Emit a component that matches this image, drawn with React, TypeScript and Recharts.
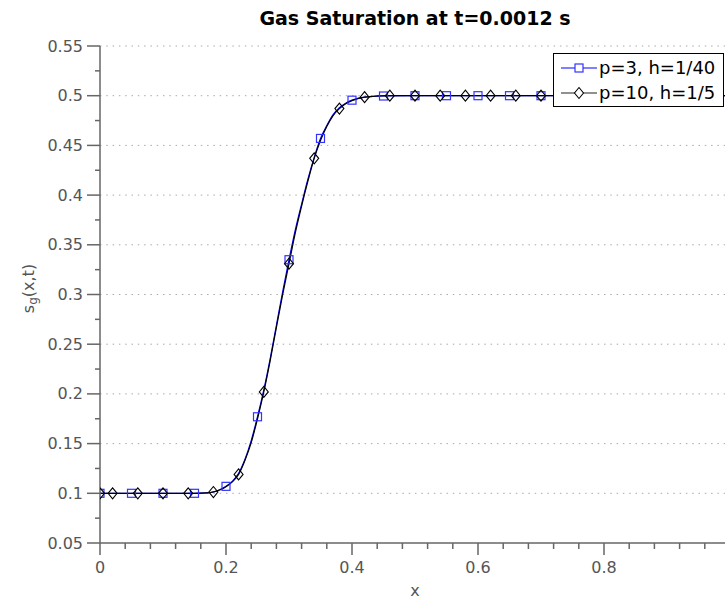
import {
  ComposedChart,
  Line,
  Scatter,
  XAxis,
  YAxis,
  CartesianGrid,
  Legend,
  Label,
} from "recharts";

// p=3, h=1/40 : fine curve and square markers
const blueLine = [
  { x: 0, y: 0.1 }, { x: 0.1, y: 0.1 }, { x: 0.15, y: 0.1 }, { x: 0.17, y: 0.1004 },
  { x: 0.18, y: 0.1014 }, { x: 0.19, y: 0.1036 }, { x: 0.2, y: 0.107 }, { x: 0.21, y: 0.112 },
  { x: 0.22, y: 0.12 }, { x: 0.23, y: 0.134 }, { x: 0.24, y: 0.153 }, { x: 0.25, y: 0.177 },
  { x: 0.26, y: 0.204 }, { x: 0.27, y: 0.235 }, { x: 0.28, y: 0.269 }, { x: 0.29, y: 0.303 },
  { x: 0.3, y: 0.335 }, { x: 0.31, y: 0.365 }, { x: 0.32, y: 0.391 }, { x: 0.33, y: 0.416 },
  { x: 0.34, y: 0.438 }, { x: 0.35, y: 0.457 }, { x: 0.36, y: 0.47 }, { x: 0.37, y: 0.481 },
  { x: 0.38, y: 0.488 }, { x: 0.39, y: 0.4925 }, { x: 0.4, y: 0.4955 }, { x: 0.42, y: 0.4985 },
  { x: 0.45, y: 0.4997 }, { x: 0.5, y: 0.5 }, { x: 0.7, y: 0.5 }, { x: 1, y: 0.5 },
];
const blueMarks = [
  { x: 0, y: 0.1 }, { x: 0.05, y: 0.1 }, { x: 0.1, y: 0.1 }, { x: 0.15, y: 0.1 },
  { x: 0.2, y: 0.107 }, { x: 0.25, y: 0.177 }, { x: 0.3, y: 0.335 }, { x: 0.35, y: 0.457 },
  { x: 0.4, y: 0.4955 }, { x: 0.45, y: 0.4997 }, { x: 0.5, y: 0.5 }, { x: 0.55, y: 0.5 },
  { x: 0.6, y: 0.5 }, { x: 0.65, y: 0.5 }, { x: 0.7, y: 0.5 }, { x: 0.75, y: 0.5 },
  { x: 0.8, y: 0.5 }, { x: 0.85, y: 0.5 }, { x: 0.9, y: 0.5 }, { x: 0.95, y: 0.5 },
  { x: 1, y: 0.5 },
];

// p=10, h=1/5 : fine curve and diamond markers
const blackLine = [
  { x: 0, y: 0.1 }, { x: 0.1, y: 0.1 }, { x: 0.15, y: 0.1 }, { x: 0.17, y: 0.1004 },
  { x: 0.18, y: 0.1013 }, { x: 0.19, y: 0.1033 }, { x: 0.2, y: 0.1065 }, { x: 0.21, y: 0.1115 },
  { x: 0.22, y: 0.119 }, { x: 0.23, y: 0.133 }, { x: 0.24, y: 0.151 }, { x: 0.25, y: 0.175 },
  { x: 0.26, y: 0.202 }, { x: 0.27, y: 0.233 }, { x: 0.28, y: 0.267 }, { x: 0.29, y: 0.3 },
  { x: 0.3, y: 0.331 }, { x: 0.31, y: 0.362 }, { x: 0.32, y: 0.389 }, { x: 0.33, y: 0.414 },
  { x: 0.34, y: 0.437 }, { x: 0.35, y: 0.455 }, { x: 0.36, y: 0.469 }, { x: 0.37, y: 0.48 },
  { x: 0.38, y: 0.487 }, { x: 0.39, y: 0.492 }, { x: 0.4, y: 0.495 }, { x: 0.42, y: 0.4985 },
  { x: 0.46, y: 0.5 }, { x: 0.7, y: 0.5 }, { x: 1, y: 0.5 },
];
const blackMarks = [
  { x: 0, y: 0.1 }, { x: 0.02, y: 0.1 }, { x: 0.06, y: 0.1 }, { x: 0.1, y: 0.1 },
  { x: 0.14, y: 0.1 }, { x: 0.18, y: 0.1013 }, { x: 0.22, y: 0.119 }, { x: 0.26, y: 0.202 },
  { x: 0.3, y: 0.331 }, { x: 0.34, y: 0.437 }, { x: 0.38, y: 0.487 }, { x: 0.42, y: 0.4985 },
  { x: 0.46, y: 0.5 }, { x: 0.5, y: 0.5 }, { x: 0.54, y: 0.5 }, { x: 0.58, y: 0.5 },
  { x: 0.62, y: 0.5 }, { x: 0.66, y: 0.5 }, { x: 0.7, y: 0.5 }, { x: 0.74, y: 0.5 },
  { x: 0.78, y: 0.5 }, { x: 0.82, y: 0.5 }, { x: 0.86, y: 0.5 }, { x: 0.9, y: 0.5 },
  { x: 0.94, y: 0.5 }, { x: 0.98, y: 0.5 },
];

const xTicks = [
  0, 0.04, 0.08, 0.12, 0.16, 0.2, 0.24, 0.28, 0.32, 0.36, 0.4, 0.44, 0.48,
  0.52, 0.56, 0.6, 0.64, 0.68, 0.72, 0.76, 0.8, 0.84, 0.88, 0.92, 0.96, 1,
];
// major ticks that carry a visible label (the one at 1 falls off the right edge)
const xMajor = [0, 0.2, 0.4, 0.6, 0.8];
const yTicks = [
  0.05, 0.075, 0.1, 0.125, 0.15, 0.175, 0.2, 0.225, 0.25, 0.275, 0.3,
  0.325, 0.35, 0.375, 0.4, 0.425, 0.45, 0.475, 0.5, 0.525, 0.55,
];
const yMajor = [0.05, 0.1, 0.15, 0.2, 0.25, 0.3, 0.35, 0.4, 0.45, 0.5, 0.55];

const FONT = "'DejaVu Sans', sans-serif";
const AXIS = "#666";
const isMajor = (list: number[], v: number) => list.some((m) => Math.abs(m - v) < 1e-9);

const XTick = ({ x, y, payload }: any) => {
  const major = isMajor(xMajor, payload.value);
  return (
    <g>
      <line x1={x} x2={x} y1={y} y2={y + (major ? 12 : 6)} stroke={AXIS} strokeWidth={1.5} />
      {major && (
        <text x={x} y={y + 24} textAnchor="middle" dominantBaseline="central"
          fontFamily={FONT} fontSize={16} fill="#555">
          {String(payload.value)}
        </text>
      )}
    </g>
  );
};

const YTick = ({ x, y, payload }: any) => {
  const major = isMajor(yMajor, payload.value);
  return (
    <g>
      <line x1={x - (major ? 13 : 5)} x2={x} y1={y} y2={y} stroke={AXIS} strokeWidth={1.5} />
      {major && (
        <text x={x - 17} y={y} textAnchor="end" dominantBaseline="central"
          fontFamily={FONT} fontSize={16} fill="#555">
          {String(payload.value)}
        </text>
      )}
    </g>
  );
};

const Square = ({ cx, cy }: any) => (
  <rect x={cx - 4} y={cy - 4} width={8} height={8} fill="none" stroke="#3333ff" strokeWidth={1.2} />
);

const Diamond = ({ cx, cy }: any) => (
  <path d={`M${cx},${cy - 5.5}L${cx + 4.5},${cy}L${cx},${cy + 5.5}L${cx - 4.5},${cy}Z`}
    fill="none" stroke="#000" strokeWidth={1.1} />
);

const legendItems = [
  { label: "p=3, h=1/40", color: "#0000ff", marker: "square" },
  { label: "p=10, h=1/5", color: "#222", marker: "diamond" },
];

const LegendBox = () => (
  <div style={{ border: "1.3px solid #000", background: "#fff", width: 169, height: 51,
    paddingTop: 1, boxSizing: "content-box" }}>
    {legendItems.map((it) => (
      <div key={it.label} style={{ display: "flex", alignItems: "center", height: 25 }}>
        <svg width={44} height={16} style={{ marginLeft: 6 }}>
          <line x1={1} x2={37} y1={8} y2={8} stroke={it.color} strokeWidth={1.2} />
          {it.marker === "square" ? (
            <rect x={15} y={4} width={8} height={8} fill="#fff" stroke="#3333ff" strokeWidth={1.2} />
          ) : (
            <path d="M19,2.5L23.5,8L19,13.5L14.5,8Z" fill="#fff" stroke="#000" strokeWidth={1.1} />
          )}
        </svg>
        <span style={{ fontFamily: FONT, fontSize: 18, color: "#000", marginLeft: -5 }}>
          {it.label}
        </span>
      </div>
    ))}
  </div>
);

const YLabel = ({ viewBox }: any) => {
  const cx = 28;
  const cy = viewBox.y + viewBox.height / 2 - 6;
  return (
    <text x={cx} y={cy} transform={`rotate(-90 ${cx} ${cy})`} textAnchor="middle"
      dominantBaseline="central" fontFamily={FONT} fontSize={16} fill="#555">
      s<tspan fontSize={12} dy={5}>g</tspan><tspan dy={-5}>(x,t)</tspan>
    </text>
  );
};

const XLabel = ({ viewBox }: any) => (
  <text x={viewBox.x + 315} y={590} textAnchor="middle" dominantBaseline="central"
    fontFamily={FONT} fontSize={16} fill="#555">
    x
  </text>
);

export default function App() {
  return (
    <div style={{ position: "absolute", left: 0, top: 0, width: 725, height: 601,
      overflow: "hidden", background: "#fff" }}>
      <div style={{ position: "absolute", left: 100, width: 630, top: 7, textAlign: "center",
        fontFamily: FONT, fontWeight: "bold", fontSize: 19, color: "#000" }}>
        Gas Saturation at t=0.0012 s
      </div>
      <ComposedChart width={740} height={601} margin={{ top: 46, right: 10, bottom: 0, left: 40 }}>
        <CartesianGrid vertical={false} horizontalValues={yMajor.slice(1)}
          stroke="#aaa" strokeDasharray="1.5 4.8" />
        <XAxis dataKey="x" type="number" domain={[0, 1]} ticks={xTicks} interval={0}
          allowDataOverflow height={58} tickSize={0} tickMargin={0}
          stroke={AXIS} strokeWidth={1.5} tick={<XTick />}>
          <Label content={<XLabel />} />
        </XAxis>
        <YAxis type="number" domain={[0.05, 0.55]} ticks={yTicks} interval={0}
          allowDataOverflow width={60} tickSize={0} tickMargin={0}
          stroke={AXIS} strokeWidth={1.5} tick={<YTick />}>
          <Label content={<YLabel />} />
        </YAxis>
        <Line data={blueLine} dataKey="y" type="monotone" stroke="#0000ff" strokeWidth={1.2}
          dot={false} activeDot={false} isAnimationActive={false} />
        <Line data={blackLine} dataKey="y" type="monotone" stroke="#000" strokeWidth={1.2}
          dot={false} activeDot={false} isAnimationActive={false} />
        <Scatter data={blueMarks} dataKey="y" shape={<Square />} isAnimationActive={false} />
        <Scatter data={blackMarks} dataKey="y" shape={<Diamond />} isAnimationActive={false} />
        <Legend layout="horizontal" verticalAlign="middle" align="center"
          wrapperStyle={{ left: 553, top: 53, width: "auto", height: "auto" }}
          content={<LegendBox />} />
      </ComposedChart>
    </div>
  );
}
